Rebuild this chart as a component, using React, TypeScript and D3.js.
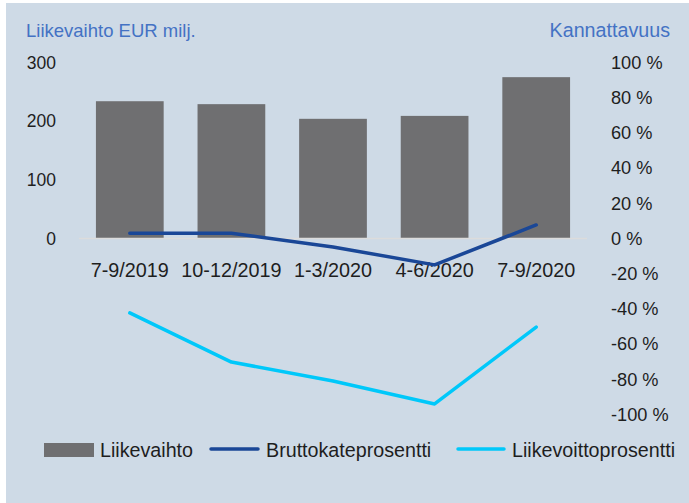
import React, { useEffect, useRef } from "react";
import * as d3 from "d3";

const categories = ["7-9/2019", "10-12/2019", "1-3/2020", "4-6/2020", "7-9/2020"];
const liikevaihto = [234, 229, 204, 209, 275]; // EUR milj.
const bruttokate = [3.0, 3.0, -4.8, -15.0, 7.7]; // %
const liikevoitto = [-42.3, -70.2, -81.0, -94.0, -50.3]; // %
const leftTicks = [0, 100, 200, 300];
const rightTicks = [100, 80, 60, 40, 20, 0, -20, -40, -60, -80, -100];

const W = 689;
const H = 503;
const FONT = "'Liberation Sans', Arial, sans-serif";
const BAR = "#6f6f71";
const DARK = "#1a4797";
const LIGHT = "#00c8fa";
const BLUE = "#4472c4";
const TEXT = "#1e1e1e";

export default function App() {
  const ref = useRef<SVGSVGElement>(null);

  useEffect(() => {
    const svg = d3.select(ref.current);
    svg.selectAll("*").remove();

    svg.append("rect")
      .attr("x", 6).attr("y", 3)
      .attr("width", W - 6).attr("height", H - 3)
      .attr("fill", "#cedae6");

    const x = d3.scaleBand<string>()
      .domain(categories)
      .range([79, 587])
      .paddingInner(1 / 3)
      .paddingOuter(1 / 6);

    const yL = d3.scaleLinear().domain([0, 300]).range([238.5, 62.5]);
    const yR = d3.scaleLinear().domain([-100, 100]).range([414.5, 62.5]);

    // titles
    svg.append("text")
      .attr("x", 26).attr("y", 37)
      .attr("fill", BLUE)
      .style("font-family", FONT).style("font-size", "18.5px")
      .text("Liikevaihto EUR milj.");
    svg.append("text")
      .attr("x", 670).attr("y", 37)
      .attr("text-anchor", "end")
      .attr("fill", BLUE)
      .style("font-family", FONT).style("font-size", "19.7px")
      .text("Kannattavuus");

    // left axis labels
    svg.append("g").selectAll("text")
      .data(leftTicks)
      .enter().append("text")
      .attr("x", 56)
      .attr("y", d => yL(d))
      .attr("dy", "0.35em")
      .attr("text-anchor", "end")
      .attr("fill", TEXT)
      .style("font-family", FONT).style("font-size", "17.5px")
      .text(d => d);

    // right axis labels
    svg.append("g").selectAll("text")
      .data(rightTicks)
      .enter().append("text")
      .attr("x", 611)
      .attr("y", d => yR(d))
      .attr("dy", "0.35em")
      .attr("fill", TEXT)
      .style("font-family", FONT).style("font-size", "18.2px")
      .text(d => d + " %");

    // bars
    svg.append("g").selectAll("rect")
      .data(liikevaihto)
      .enter().append("rect")
      .attr("x", (d, i) => x(categories[i])!)
      .attr("y", d => yL(d))
      .attr("width", x.bandwidth())
      .attr("height", d => yL(0) - yL(d))
      .attr("fill", BAR);

    // zero line
    svg.append("line")
      .attr("x1", 79).attr("x2", 587)
      .attr("y1", yL(0)).attr("y2", yL(0))
      .attr("stroke", "#dcdcdc")
      .attr("stroke-width", 1.5);

    // category labels
    svg.append("g").selectAll("text")
      .data(categories)
      .enter().append("text")
      .attr("x", d => x(d)! + x.bandwidth() / 2)
      .attr("y", 270)
      .attr("dy", "0.35em")
      .attr("text-anchor", "middle")
      .attr("fill", TEXT)
      .style("font-family", FONT).style("font-size", "19.8px")
      .text(d => d);

    const cx = (i: number) => x(categories[i])! + x.bandwidth() / 2;
    const line = d3.line<number>()
      .x((d, i) => cx(i))
      .y(d => yR(d));

    svg.append("path")
      .attr("d", line(bruttokate))
      .attr("fill", "none")
      .attr("stroke", DARK)
      .attr("stroke-width", 3.5)
      .attr("stroke-linecap", "round")
      .attr("stroke-linejoin", "round");

    svg.append("path")
      .attr("d", line(liikevoitto))
      .attr("fill", "none")
      .attr("stroke", LIGHT)
      .attr("stroke-width", 3.5)
      .attr("stroke-linecap", "round")
      .attr("stroke-linejoin", "round");

    // legend
    const lg = svg.append("g").style("font-family", FONT).style("font-size", "19.7px");
    lg.append("rect").attr("x", 44).attr("y", 443).attr("width", 50).attr("height", 14).attr("fill", BAR);
    lg.append("text").attr("x", 100).attr("y", 450).attr("dy", "0.35em").attr("fill", TEXT).text("Liikevaihto");
    lg.append("line").attr("x1", 211).attr("x2", 258).attr("y1", 449).attr("y2", 449)
      .attr("stroke", DARK).attr("stroke-width", 3.5).attr("stroke-linecap", "round");
    lg.append("text").attr("x", 266).attr("y", 450).attr("dy", "0.35em").attr("fill", TEXT).text("Bruttokateprosentti");
    lg.append("line").attr("x1", 458).attr("x2", 504).attr("y1", 449).attr("y2", 449)
      .attr("stroke", LIGHT).attr("stroke-width", 3.5).attr("stroke-linecap", "round");
    lg.append("text").attr("x", 512).attr("y", 450).attr("dy", "0.35em").attr("fill", TEXT).text("Liikevoittoprosentti");
  }, []);

  return (
    <svg ref={ref} width={W} height={H}
      style={{ position: "absolute", left: 0, top: 0, display: "block" }} />
  );
}
